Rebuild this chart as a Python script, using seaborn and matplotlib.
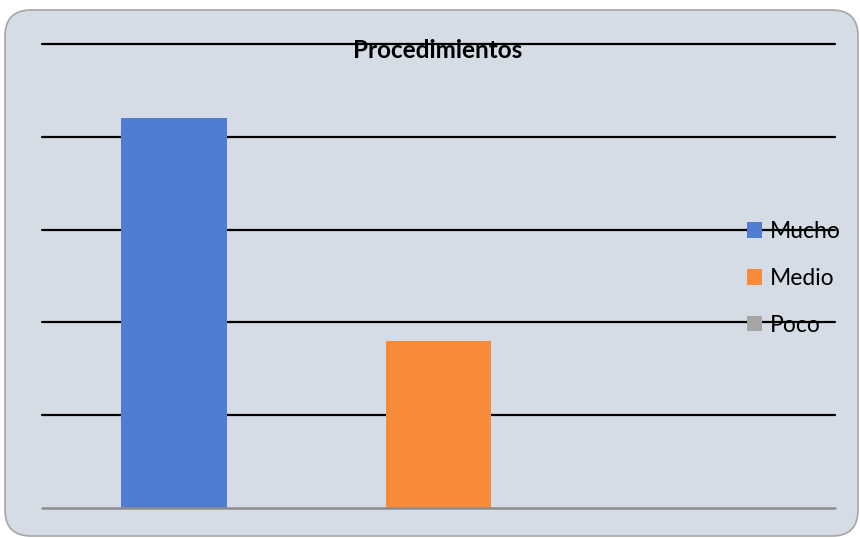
import matplotlib
matplotlib.use("Agg")
import matplotlib.pyplot as plt
import seaborn as sns
from matplotlib.patches import FancyBboxPatch
from matplotlib.transforms import IdentityTransform

# data
categories = ["Mucho", "Medio", "Poco"]
values = [21, 9, 0]
bar_colors = ["#4E7DD1", "#F78B39", "#A5A5A5"]
grid_values = [5, 10, 15, 20, 25]
title = "Procedimientos"

sns.set_style("white")
plt.rcParams["font.family"] = ["Lato", "DejaVu Sans"]
plt.rcParams["text.color"] = "black"

fig = plt.figure(figsize=(8.6, 5.38), dpi=100)

# rounded card behind the chart (pixel coords)
card = FancyBboxPatch((5, 2), 853, 526,
                      boxstyle="round,pad=0,rounding_size=26",
                      transform=IdentityTransform(),
                      facecolor="#D6DCE5", edgecolor="#A6A6A6", linewidth=1.2,
                      zorder=-5)
fig.patches.append(card)

ax = fig.add_axes([42 / 860, 1 - 508 / 538, 793 / 860, 464 / 538])
ax.set_facecolor("none")
ax.set_zorder(1)

sns.barplot(x=categories, y=values, hue=categories, palette=bar_colors,
            width=0.4, saturation=1, legend=True, ax=ax, zorder=2,
            linewidth=0, edgecolor="none")

for g in grid_values:
    ax.axhline(g, color="black", linewidth=1.6, zorder=1, clip_on=False)
ax.axhline(0, color="#8C8C8C", linewidth=1.8, zorder=3, clip_on=False)

ax.set_ylim(0, 25)
ax.set_xlim(-0.5, 2.5)
ax.set_xticks([])
ax.set_yticks([])
ax.set_xlabel("")
ax.set_ylabel("")
sns.despine(ax=ax, left=True, bottom=True)

fig.text(0.509, 1 - 50 / 538, title, ha="center", va="center",
         fontsize=17.5, fontweight="bold", color="black", zorder=5)

handles, labels = ax.get_legend_handles_labels()
ax.get_legend().remove()
leg = fig.legend(handles, labels, loc="center left",
                 bbox_to_anchor=(747 / 860, 1 - 278.5 / 538),
                 frameon=False, fontsize=16.5, handlelength=0.65,
                 handleheight=0.65, handletextpad=0.35, labelspacing=1.13,
                 borderpad=0, borderaxespad=0)
leg.set_zorder(5)
for t in leg.get_texts():
    t.set_color("black")
for h in leg.legend_handles:
    h.set_linewidth(0)
    h.set_edgecolor("none")

fig.savefig("out.png", dpi=100)
